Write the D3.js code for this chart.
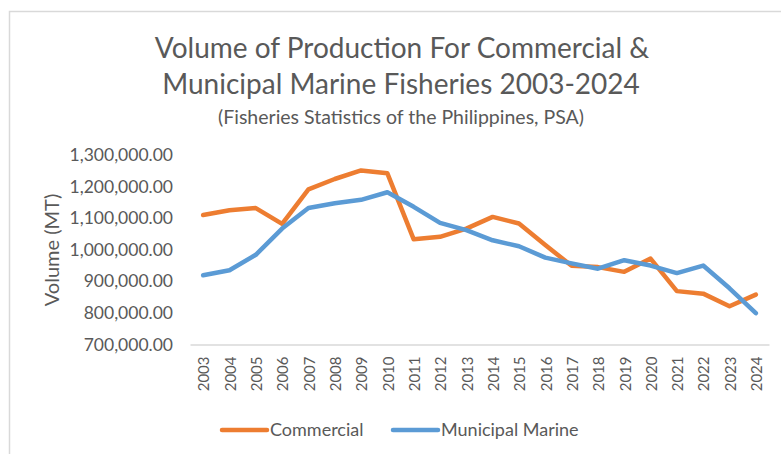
<!DOCTYPE html>
<html>
<head>
<meta charset="utf-8">
<script src="https://cdn.jsdelivr.net/npm/d3@7"></script>
<style>
  html, body { margin: 0; padding: 0; background: #fff; }
  svg { display: block; font-family: Lato, "Open Sans", sans-serif; }
</style>
</head>
<body>
<svg id="chart" width="781" height="454"></svg>
<script>
// Fisheries production volume (MT), 2003-2024
const years = ["2003","2004","2005","2006","2007","2008","2009","2010","2011","2012","2013",
               "2014","2015","2016","2017","2018","2019","2020","2021","2022","2023","2024"];
const commercial = [1110000, 1125000, 1132000, 1082000, 1191000, 1224000, 1251000, 1242000,
                    1033000, 1041000, 1067000, 1104000, 1083000, 1015000, 949000, 945000,
                    930000, 972000, 869000, 861000, 821000, 858000];
const municipal  = [919000, 935000, 984000, 1067000, 1132000, 1147000, 1158000, 1182000,
                    1136000, 1085000, 1062000, 1030000, 1011000, 975000, 957000, 940000,
                    967000, 950000, 926000, 950000, 878000, 799000];
const yTicks = [700000, 800000, 900000, 1000000, 1100000, 1200000, 1300000];
const seriesNames = ["Commercial", "Municipal Marine"];
const seriesColors = ["#ED7D31", "#5B9BD5"];

const svg = d3.select("#chart");
const textColor = "#595959";
const font = "Lato, 'Open Sans', sans-serif";

// chart frame
svg.append("rect")
  .attr("x", 9.5).attr("y", 11.5)
  .attr("width", 800).attr("height", 500)
  .attr("fill", "#fff").attr("stroke", "#d9d9d9").attr("stroke-width", 1.5);

// titles
svg.append("text").attr("x", 402).attr("y", 58)
  .attr("text-anchor", "middle").attr("fill", textColor)
  .style("font-size", "28px")
  .text("Volume of Production For Commercial &");
svg.append("text").attr("x", 401).attr("y", 94)
  .attr("text-anchor", "middle").attr("fill", textColor)
  .style("font-size", "28px")
  .text("Municipal Marine Fisheries 2003-2024");
svg.append("text").attr("x", 401).attr("y", 124)
  .attr("text-anchor", "middle").attr("fill", textColor)
  .style("font-size", "19.5px")
  .text("(Fisheries Statistics of the Philippines, PSA)");

// scales
const x = d3.scaleBand().domain(years).range([190, 769]);
const y = d3.scaleLinear().domain([700000, 1300000]).range([344.5, 155]);
const xc = d => x(d) + x.bandwidth() / 2;

// y axis (labels only)
const yAxis = svg.append("g").attr("transform", "translate(173,0)")
  .call(d3.axisLeft(y).tickValues(yTicks).tickSize(0).tickPadding(0)
        .tickFormat(d3.format(",.2f")));
yAxis.select(".domain").remove();
yAxis.selectAll("text").attr("fill", textColor).style("font-size", "17.5px")
  .style("font-family", font);

// y axis title
svg.append("text")
  .attr("transform", "translate(59,250) rotate(-90)")
  .attr("text-anchor", "middle").attr("fill", textColor)
  .style("font-size", "20px")
  .text("Volume (MT)");

// x axis
const xAxis = svg.append("g").attr("transform", "translate(0,344.5)")
  .call(d3.axisBottom(x).tickSize(0).tickPadding(0));
xAxis.select(".domain").attr("stroke", "#d9d9d9").attr("stroke-width", 1.5);
xAxis.selectAll("text")
  .attr("fill", textColor).style("font-size", "15px")
  .style("font-family", font)
  .attr("text-anchor", "end")
  .attr("dy", "0.35em")
  .attr("transform", "translate(1,12) rotate(-90)")
  .attr("x", 0).attr("y", 0);

// lines
const line = d3.line().x((d, i) => xc(years[i])).y(d => y(d));
[commercial, municipal].forEach((vals, k) => {
  svg.append("path").datum(vals)
    .attr("d", line)
    .attr("fill", "none")
    .attr("stroke", seriesColors[k])
    .attr("stroke-width", 4.5)
    .attr("stroke-linejoin", "round")
    .attr("stroke-linecap", "round");
});

// legend
const legendX = [222, 393];
seriesNames.forEach((name, k) => {
  const g = svg.append("g").attr("transform", `translate(${legendX[k]},430)`);
  g.append("line").attr("x1", 0).attr("x2", 45).attr("y1", 0).attr("y2", 0)
    .attr("stroke", seriesColors[k]).attr("stroke-width", 4.5).attr("stroke-linecap", "round");
  g.append("text").attr("x", 48).attr("y", 0).attr("dy", "0.35em")
    .attr("fill", textColor).style("font-size", "18px").text(name);
});
</script>
</body>
</html>
